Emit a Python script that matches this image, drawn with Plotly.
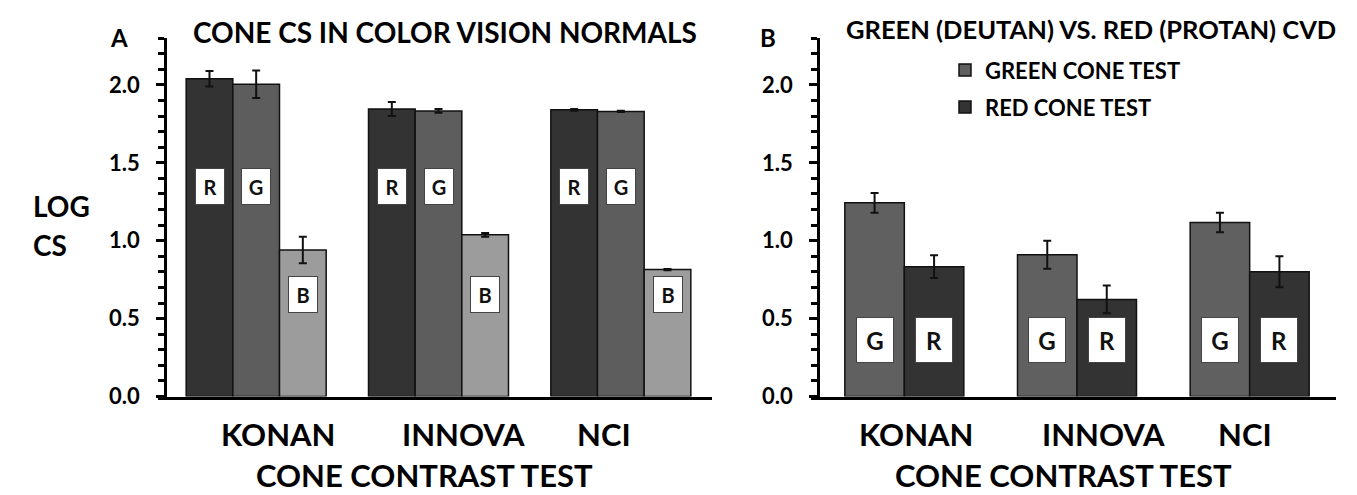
import plotly.graph_objects as go

# ---------------- data ----------------
categories = ["KONAN", "INNOVA", "NCI"]

# Panel A: cone CS in colour-vision normals
a_red = [2.04, 1.846, 1.84]
a_red_err = [0.05, 0.045, 0.006]
a_green = [2.004, 1.833, 1.83]
a_green_err = [0.088, 0.012, 0.004]
a_blue = [0.94, 1.038, 0.815]
a_blue_err = [0.085, 0.012, 0.004]

# Panel B: green (deutan) vs red (protan) CVD
b_green = [1.243, 0.91, 1.117]
b_green_err = [0.063, 0.09, 0.063]
b_red = [0.833, 0.623, 0.801]
b_red_err = [0.073, 0.089, 0.10]

y_ticks = [0.0, 0.5, 1.0, 1.5, 2.0]
y_tick_labels = ["0.0", "0.5", "1.0", "1.5", "2.0"]

# ---------------- style ----------------
W, H = 1357, 495
FONT = "Lato"
C_DARK = "#333333"
C_MID = "#5d5d5d"
C_LIGHT = "#9c9c9c"

# pixel geometry
A_XLINE0, A_YAX, A_XEND = 150, 157, 704
B_XLINE0, B_YAX, B_XEND = 803, 810, 1328
Y_BOT, Y_TOP = 399, 31
Y_MAX = 2.3

a_cat = (A_XEND - A_YAX) / 3
b_cat = (B_XEND - B_YAX) / 3
a_w = (140 / 3) / a_cat
b_w = 59.5 / b_cat
a_offsets = [-1.5 * a_w, -0.5 * a_w, 0.5 * a_w]
b_offsets = [-b_w, 0.0]

fig = go.Figure()

def add_bar(vals, errs, color, offset, width, xa, ya, name, legend=None):
    fig.add_trace(go.Bar(
        x=categories, y=vals, name=name,
        marker=dict(color=color, line=dict(color="#111111", width=1.5)),
        error_y=dict(type="data", array=errs, color="#111111", thickness=2, width=4),
        offset=offset, width=width, xaxis=xa, yaxis=ya,
        showlegend=legend is not None, legend=legend if legend else "legend",
    ))

add_bar(a_red, a_red_err, C_DARK, a_offsets[0], a_w, "x", "y", "R")
add_bar(a_green, a_green_err, C_MID, a_offsets[1], a_w, "x", "y", "G")
add_bar(a_blue, a_blue_err, C_LIGHT, a_offsets[2], a_w, "x", "y", "B")
add_bar(b_green, b_green_err, "#606060", b_offsets[0], b_w, "x2", "y2", "GREEN CONE TEST", "legend")
add_bar(b_red, b_red_err, C_DARK, b_offsets[1], b_w, "x2", "y2", "RED CONE TEST", "legend2")

annotations = []

# letter boxes inside bars
def box(xref, yref, x, y, text, w, h, size):
    annotations.append(dict(
        xref=xref, yref=yref, x=x, y=y, text=text, showarrow=False,
        font=dict(family=FONT, size=size, color="#111111", weight="bold"),
        bgcolor="white", bordercolor="#444444", borderwidth=1, borderpad=0,
        width=w, height=h, xanchor="center", yanchor="middle",
    ))

a_box_y = [1.345, 1.345, 0.655]
for i in range(3):
    for j, t in enumerate(["R", "G", "B"]):
        box("x", "y", i + a_offsets[j] + a_w / 2, a_box_y[j], t, 28, 35, 20)
for i in range(3):
    for j, t in enumerate(["G", "R"]):
        box("x2", "y2", i + b_offsets[j] + b_w / 2, 0.365, t, 36, 44, 24)

# category labels (positioned slightly off-centre as in original)
a_label_shift = [22, 25, -17]
b_label_shift = [12, 26, -5]
lab_y = 1 - 437 / H
for i, c in enumerate(categories):
    annotations.append(dict(xref="x", yref="paper", x=i, y=lab_y, xshift=a_label_shift[i],
                            text=c, showarrow=False, yanchor="middle",
                            font=dict(family=FONT, size=31, color="black", weight="bold")))
    annotations.append(dict(xref="x2", yref="paper", x=i, y=lab_y, xshift=b_label_shift[i],
                            text=c, showarrow=False, yanchor="middle",
                            font=dict(family=FONT, size=31, color="black", weight="bold")))

def ptext(x, y, text, size, xanchor="center"):
    annotations.append(dict(xref="paper", yref="paper", x=x / W, y=1 - y / H, text=text,
                            showarrow=False, xanchor=xanchor, yanchor="middle",
                            font=dict(family=FONT, size=size, color="black", weight="bold")))

ptext(416, 480, "CONE CONTRAST TEST", 31)
ptext(1055, 480, "CONE CONTRAST TEST", 31)
ptext(437, 25, "CONE CS IN COLOR VISION NORMALS", 28)
ptext(1083, 22, "GREEN (DEUTAN) VS. RED (PROTAN) CVD", 25.5)
ptext(111, 30, "A", 24)
ptext(760, 30, "B", 24)
ptext(23, 203, "LOG", 28, "left")
ptext(23, 243, "CS", 28, "left")

y_dom = [1 - Y_BOT / H, 1 - Y_TOP / H]

def yaxis_cfg(pos):
    return dict(
        range=[0, Y_MAX], domain=y_dom, anchor="free", position=pos,
        tickvals=y_ticks, ticktext=y_tick_labels,
        ticks="outside", ticklen=8, tickwidth=2.5, tickcolor="black",
        minor=dict(dtick=0.1, ticks="outside", ticklen=6, tickwidth=2.5, tickcolor="black", showgrid=False),
        showline=True, linecolor="black", linewidth=2.5,
        showgrid=False, zeroline=False, ticklabelstandoff=12,
        tickfont=dict(family=FONT, size=22, color="black", weight="bold"),
    )

def xaxis_cfg(x0, yax, xend, cat, yref):
    return dict(
        domain=[x0 / W, xend / W], range=[-0.5 - (yax - x0) / cat, 2.5],
        type="category", showticklabels=False, ticks="",
        showline=True, linecolor="black", linewidth=3, showgrid=False,
        anchor=yref,
    )

legend_font = dict(family=FONT, size=22, color="black", weight="bold")
fig.update_layout(
    width=W, height=H, margin=dict(l=0, r=0, t=0, b=0),
    paper_bgcolor="white", plot_bgcolor="white",
    barmode="overlay",
    xaxis=xaxis_cfg(A_XLINE0, A_YAX, A_XEND, a_cat, "y"),
    xaxis2=xaxis_cfg(B_XLINE0, B_YAX, B_XEND, b_cat, "y2"),
    yaxis=yaxis_cfg(A_YAX / W),
    yaxis2=yaxis_cfg(B_YAX / W),
    annotations=annotations,
    legend=dict(x=937 / W, y=1 - 64 / H, xanchor="left", yanchor="middle",
                bgcolor="rgba(0,0,0,0)", font=legend_font, itemwidth=30),
    legend2=dict(x=937 / W, y=1 - 102 / H, xanchor="left", yanchor="middle",
                 bgcolor="rgba(0,0,0,0)", font=legend_font, itemwidth=30),
)

fig.write_html("out.html")
